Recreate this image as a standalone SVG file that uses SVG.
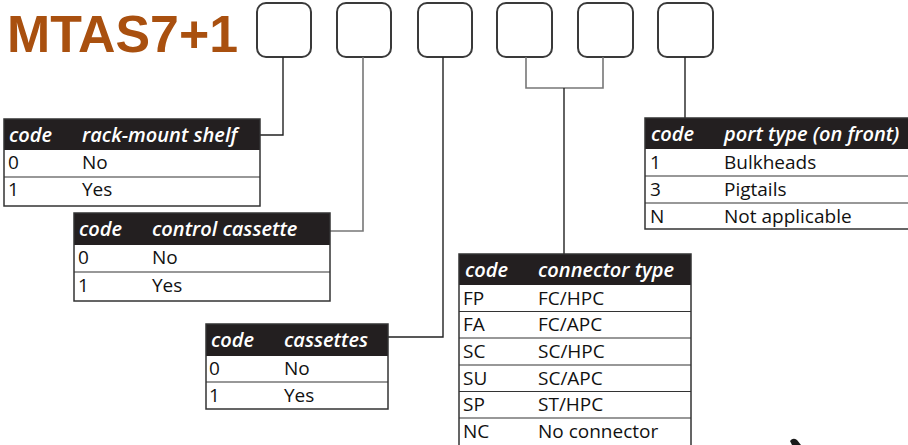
<svg xmlns="http://www.w3.org/2000/svg" width="908" height="445" viewBox="0 0 908 445">
<style>
.title{font-family:"Liberation Sans",Arial,sans-serif;font-weight:bold;font-size:52px;fill:#A9500F}
.box{fill:#fff;stroke:#3a3a3a;stroke-width:2}
.hdr{fill:#231f20}
.tbl{fill:none;stroke:#333;stroke-width:1.5}
.div{stroke:#333;stroke-width:1.2}
.ht{font-family:"Open Sans","Noto Sans",sans-serif;font-style:italic;font-weight:600;font-size:20px;fill:#fff}
.rt{font-family:"Open Sans","Noto Sans",sans-serif;font-size:19px;fill:#111}
.ln{fill:none;stroke:#222;stroke-width:1.4}
.lg{fill:none;stroke:#777;stroke-width:1.6}
</style>
<rect width="908" height="445" fill="#fff"/>
<g id="title"><text class="title" x="7" y="52" textLength="231" lengthAdjust="spacingAndGlyphs">MTAS7+1</text></g>
<g id="boxes">
<rect id="box1" class="box" x="257" y="3" width="54" height="54" rx="9"/>
<rect id="box2" class="box" x="337" y="3" width="54" height="54" rx="9"/>
<rect id="box3" class="box" x="418" y="3" width="54" height="54" rx="9"/>
<rect id="box4" class="box" x="497" y="3" width="55" height="54" rx="9"/>
<rect id="box5" class="box" x="578" y="3" width="55" height="54" rx="9"/>
<rect id="box6" class="box" x="658" y="3" width="55" height="54" rx="9"/>
</g>
<g id="connectors">
<polyline class="ln" points="283,57 283,135 260,135"/>
<polyline class="lg" points="363,57 363,231 330,231"/>
<polyline class="ln" points="443,57 443,337 388,337"/>
<polyline class="lg" points="526,57 526,88 603,88 603,57"/>
<line class="ln" x1="564" y1="88" x2="564" y2="254"/>
<line class="ln" x1="685" y1="57" x2="685" y2="118"/>
</g>
<g id="table-rack">
<rect class="hdr" x="4" y="119" width="256" height="31"/>
<line class="div" x1="4" y1="177" x2="260" y2="177"/>
<rect class="tbl" x="4" y="119" width="256" height="87"/>
<text class="ht" x="9" y="142">code</text><text class="ht" x="82" y="142">rack-mount shelf</text>
<text class="rt" x="8" y="169">0</text><text class="rt" x="82" y="169">No</text>
<text class="rt" x="8" y="196">1</text><text class="rt" x="82" y="196">Yes</text>
</g>
<g id="table-control">
<rect class="hdr" x="74" y="213" width="256" height="32"/>
<line class="div" x1="74" y1="272" x2="330" y2="272"/>
<rect class="tbl" x="74" y="213" width="256" height="88"/>
<text class="ht" x="79" y="236">code</text><text class="ht" x="152" y="236">control cassette</text>
<text class="rt" x="78" y="264">0</text><text class="rt" x="152" y="264">No</text>
<text class="rt" x="78" y="292">1</text><text class="rt" x="152" y="292">Yes</text>
</g>
<g id="table-cassettes">
<rect class="hdr" x="206" y="324" width="182" height="32"/>
<line class="div" x1="206" y1="382" x2="388" y2="382"/>
<rect class="tbl" x="206" y="324" width="182" height="85"/>
<text class="ht" x="211" y="347">code</text><text class="ht" x="284" y="347">cassettes</text>
<text class="rt" x="209" y="375">0</text><text class="rt" x="284" y="375">No</text>
<text class="rt" x="209" y="402">1</text><text class="rt" x="284" y="402">Yes</text>
</g>
<g id="table-connector">
<rect class="hdr" x="459" y="254" width="232" height="31"/>
<line class="div" x1="459" y1="311.5" x2="691" y2="311.5"/>
<line class="div" x1="459" y1="338" x2="691" y2="338"/>
<line class="div" x1="459" y1="365" x2="691" y2="365"/>
<line class="div" x1="459" y1="391.5" x2="691" y2="391.5"/>
<line class="div" x1="459" y1="418" x2="691" y2="418"/>
<rect class="tbl" x="459" y="254" width="232" height="200"/>
<text class="ht" x="465" y="277">code</text><text class="ht" x="538" y="277">connector type</text>
<text class="rt" x="463" y="305">FP</text><text class="rt" x="538" y="305">FC/HPC</text>
<text class="rt" x="463" y="331">FA</text><text class="rt" x="538" y="331">FC/APC</text>
<text class="rt" x="463" y="358">SC</text><text class="rt" x="538" y="358">SC/HPC</text>
<text class="rt" x="463" y="385">SU</text><text class="rt" x="538" y="385">SC/APC</text>
<text class="rt" x="463" y="411">SP</text><text class="rt" x="538" y="411">ST/HPC</text>
<text class="rt" x="463" y="438">NC</text><text class="rt" x="538" y="438">No connector</text>
</g>
<g id="table-port">
<rect class="hdr" x="645" y="118" width="270" height="31"/>
<line class="div" x1="645" y1="176" x2="915" y2="176"/>
<line class="div" x1="645" y1="203" x2="915" y2="203"/>
<rect class="tbl" x="645" y="118" width="270" height="111"/>
<text class="ht" x="651" y="141">code</text><text class="ht" x="724" y="141">port type (on front)</text>
<text class="rt" x="650" y="169">1</text><text class="rt" x="724" y="169">Bulkheads</text>
<text class="rt" x="650" y="196">3</text><text class="rt" x="724" y="196">Pigtails</text>
<text class="rt" x="650" y="223">N</text><text class="rt" x="724" y="223">Not applicable</text>
</g>
<path d="M790,441 Q793,437 797,440 L801,445 L792,445 Z" fill="#1a1a1a"/>
</svg>
